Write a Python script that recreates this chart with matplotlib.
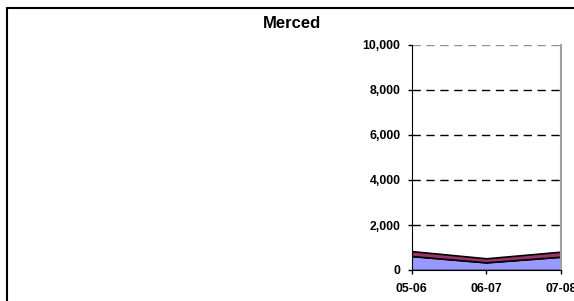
import matplotlib.pyplot as plt
from matplotlib.patches import Rectangle
import numpy as np

years = ["05-06", "06-07", "07-08"]
bas = [620, 340, 590]
haut = [220, 180, 225]

plt.rcParams["font.family"] = ["Liberation Sans", "DejaVu Sans"]

fig = plt.figure(figsize=(5.74, 3.01), dpi=100)

# cadre exterieur (coupe a droite et en bas)
fig.patches.append(Rectangle((7 / 574, -0.1), 1.2, 1 - 8 / 301 + 0.1,
                             transform=fig.transFigure, fill=False,
                             edgecolor="black", linewidth=1.5))

ax = fig.add_axes([411.5 / 574, 1 - 270 / 301, 149.5 / 574, 225 / 301])
x = np.arange(len(years))

ax.stackplot(x, bas, haut, colors=["#9999FF", "#993366"],
             edgecolor="black", linewidth=1.2)

ax.set_xlim(0, 2)
ax.set_ylim(0, 10000)
ax.set_yticks(range(0, 10001, 2000))
ax.set_yticklabels([f"{v:,}" for v in range(0, 10001, 2000)])
ax.set_xticks(x)
ax.set_xticklabels(years)

for v in range(2000, 10001, 2000):
    c = "#909090" if v == 10000 else "black"
    ax.axhline(v, color=c, linestyle=(0, (6, 4)), linewidth=1.0, zorder=0)

ax.spines["left"].set_color("black")
ax.spines["bottom"].set_color("black")
ax.spines["top"].set_visible(False)
ax.spines["right"].set_color("#a0a0a0")
ax.spines["right"].set_linewidth(1.5)

ax.tick_params(axis="both", labelsize=8.8, length=3, width=1)
ax.tick_params(axis="y", pad=5)
ax.tick_params(axis="x", pad=6)
for lbl in ax.get_xticklabels() + ax.get_yticklabels():
    lbl.set_fontweight("bold")

fig.text(292 / 574, 1 - 24 / 301, "Merced", ha="center", va="center",
         fontsize=12, fontweight="bold")

fig.savefig("out.png", dpi=100)
